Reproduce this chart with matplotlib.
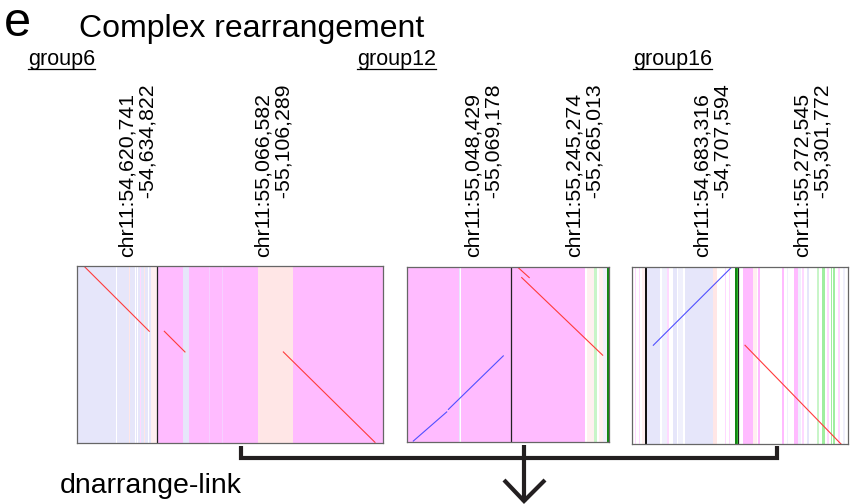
import matplotlib
matplotlib.use("Agg")
import matplotlib.pyplot as plt
from matplotlib.lines import Line2D

plt.rcParams['font.family'] = ['Liberation Sans', 'DejaVu Sans']

# ---------------- data ----------------
group_names = ["group6", "group12", "group16"]

seg_starts = [["chr11:54,620,741", "chr11:55,066,582"],
              ["chr11:55,048,429", "chr11:55,245,274"],
              ["chr11:54,683,316", "chr11:55,272,545"]]
seg_ends = [["-54,634,822", "-55,106,289"],
            ["-55,069,178", "-55,265,013"],
            ["-54,707,594", "-55,301,772"]]

# genome length shown in each panel (kb), segment boundary (kb), read length (kb)
panel_len_kb = [53.79, 40.49, 53.50]
divider_kb = [14.08, 20.75, 26.36]
query_len_kb = [31.2, 35.4, 43.97]

# annotation stripes: (start kb, end kb, kind)
stripes_g6 = [
    (0, 14.08, 'lav'), (6.9, 7.05, 'white'), (9.2, 9.4, 'peach'),
    (10.2, 10.35, 'white'), (10.6, 10.75, 'white'), (11.1, 11.3, 'pinklt'),
    (11.7, 11.9, 'peach'), (12.55, 12.7, 'white'), (12.95, 14.08, 'peachlt'),
    (14.08, 53.79, 'pink'), (18.7, 19.7, 'lav'), (23.2, 23.35, 'pinkpale'),
    (25.55, 25.7, 'pinkpale'), (31.87, 38.02, 'peach'),
]
stripes_g12 = [
    (0, 20.75, 'pink'), (10.45, 10.85, 'lav'), (10.55, 10.75, 'white'),
    (20.75, 40.49, 'pink'), (35.68, 36.0, 'white'), (36.0, 37.4, 'peachlt'),
    (37.48, 38.02, 'greenlt'), (38.02, 38.54, 'white'), (38.54, 39.34, 'peachlt'),
    (39.34, 40.02, 'lavlt'), (40.14, 40.49, 'dkgreen'),
]
stripes_g16 = [
    (0.7, 0.9, 'pinklt'), (1.75, 1.95, 'pinklt'), (2.6, 3.2, 'peachlt'),
    (3.3, 3.6, 'black'), (3.64, 6.94, 'lav'), (7.43, 8.67, 'lavlt'),
    (8.74, 9.2, 'pinklt'), (10.23, 11.07, 'lav'), (11.4, 12.6, 'lavlt'),
    (13.13, 20.14, 'lav'), (20.14, 21.13, 'peach'), (23.0, 23.3, 'pinklt'),
    (24.03, 24.35, 'pinklt'), (25.51, 25.93, 'dkgreen'), (25.93, 26.33, 'green'),
    (27.57, 30.05, 'pink'), (30.05, 30.89, 'peachlt'), (31.13, 31.71, 'pink'),
    (37.23, 37.58, 'pink'), (38.32, 38.64, 'lavlt'), (40.2, 41.04, 'pink'),
    (41.19, 41.86, 'lavlt'), (42.03, 42.68, 'pinklt'), (43.27, 43.92, 'lav'),
    (45.75, 46.32, 'greenlt'), (46.99, 47.81, 'greenmid'), (48.23, 48.8, 'pinklt'),
    (49.29, 49.62, 'greenmid'), (49.86, 50.28, 'greenmid'), (51.1, 51.52, 'pinklt'),
    (52.34, 52.76, 'lavlt'),
]
stripes = [stripes_g6, stripes_g12, stripes_g16]

# alignments: (genome kb start, read kb start, genome kb end, read kb end, strand)
aligns_g6 = [
    (1.41, 0.21, 12.71, 11.51, '+'),
    (15.35, 11.51, 18.98, 15.15, '+'),
    (36.27, 15.15, 52.38, 31.08, '+'),
]
aligns_g12 = [
    (22.3, 0.14, 24.5, 2.14, '+'),
    (22.99, 2.14, 39.22, 17.84, '+'),
    (19.3, 17.98, 8.3, 28.8, '-'),
    (7.96, 29.32, 1.26, 35.21, '-'),
]
aligns_g16 = [
    (24.52, 0.2, 5.28, 19.44, '-'),
    (27.99, 19.44, 51.77, 43.97, '+'),
]
aligns = [aligns_g6, aligns_g12, aligns_g16]

# ---------------- style ----------------
stripe_colors = {
    'lav': '#e6e6fa', 'lavlt': '#f0f0fc', 'pink': '#ffbbff',
    'pinklt': '#ffd9ff', 'pinkpale': '#f6d0ff', 'peach': '#ffe6e6',
    'peachlt': '#fff0f0', 'white': '#ffffff', 'green': '#33cc33',
    'dkgreen': '#118811', 'greenlt': '#c8f5c8', 'greenmid': '#a0eea0',
    'black': '#111111',
}
strand_colors = {'+': '#ff3b3b', '-': '#5050ff'}

W, H = 857, 504

def fx(px):
    return px / W

def fy(py):
    return 1 - py / H

# panel boxes in pixels: left, top, right, bottom
boxes = [(77, 266, 383, 443), (407, 267, 609, 442), (632, 267, 848, 444)]
label_x = [[137.5, 273.5], [484, 585], [712.5, 812.5]]
group_x = [28, 357, 633]

fig = plt.figure(figsize=(W / 100, H / 100), dpi=100)

for i in range(3):
    l, t, r, b = boxes[i]
    ax = fig.add_axes([fx(l), fy(b), (r - l) / W, (b - t) / H])
    for s0, s1, kind in stripes[i]:
        ax.axvspan(s0, s1, color=stripe_colors[kind], lw=0)
    ax.axvline(divider_kb[i], color='#222222', lw=0.9)
    for x0, y0, x1, y1, strand in aligns[i]:
        ax.plot([x0, x1], [y0, y1], color=strand_colors[strand], lw=0.8)
    ax.set_xlim(0, panel_len_kb[i])
    ax.set_ylim(query_len_kb[i], 0)
    ax.set_xticks([])
    ax.set_yticks([])
    for sp in ax.spines.values():
        sp.set_color('#666666')
        sp.set_linewidth(0.9)

    for j in range(2):
        lab = seg_starts[i][j] + "\n" + " " * 10 + seg_ends[i][j]
        fig.text(fx(label_x[i][j]), fy(257), lab, rotation=90, fontsize=15.3,
                 ha='center', va='bottom', multialignment='left', linespacing=1.12)

# title
fig.text(fx(4), fy(36), "e", fontsize=35, va='baseline', ha='left')
fig.text(fx(79), fy(37), "Complex rearrangement", fontsize=23, va='baseline', ha='left')

group_texts = []
for i in range(3):
    gt = fig.text(fx(group_x[i]), fy(65), group_names[i], fontsize=15.5,
                  va='baseline', ha='left')
    group_texts.append(gt)

fig.text(fx(60), fy(493), "dnarrange-link", fontsize=20.5, va='baseline', ha='left')

# bracket and arrow
bc = '#231f20'
fig.add_artist(Line2D([fx(241), fx(241), fx(777), fx(777)],
                      [fy(446), fy(458), fy(458), fy(446)],
                      color=bc, lw=3, solid_joinstyle='miter', solid_capstyle='butt'))
fig.add_artist(Line2D([fx(524), fx(524)], [fy(445), fy(502)], color=bc, lw=3,
                      solid_capstyle='butt'))
fig.add_artist(Line2D([fx(504), fx(524), fx(545)], [fy(480), fy(501), fy(480)],
                      color=bc, lw=3, solid_joinstyle='miter', solid_capstyle='butt'))

# underline group names
fig.canvas.draw()
rend = fig.canvas.get_renderer()
for gt in group_texts:
    bb = gt.get_window_extent(renderer=rend)
    fig.add_artist(Line2D([bb.x0 / W, bb.x1 / W], [fy(69), fy(69)], color='black', lw=0.9))

fig.savefig("out.png", dpi=100)
